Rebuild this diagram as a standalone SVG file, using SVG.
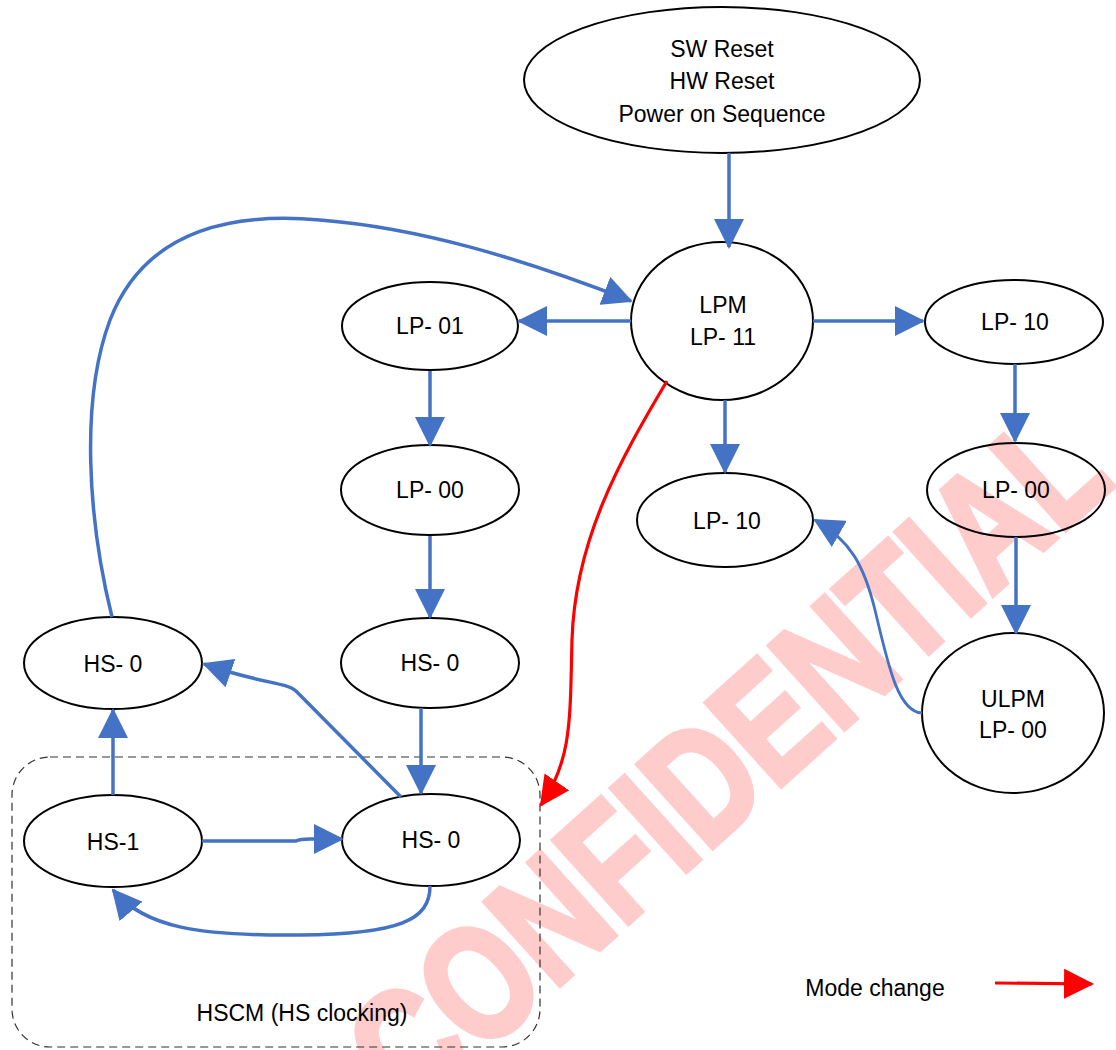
<svg xmlns="http://www.w3.org/2000/svg" width="1116" height="1050" viewBox="0 0 1116 1050">
<style>
.node ellipse{fill:none;stroke:#000;stroke-width:2}
.lbl{font-family:"Liberation Sans",Arial,sans-serif;font-size:23px;text-anchor:middle;fill:#000}
.conn{fill:none;stroke:#4472C4;stroke-width:3.5}
.thin{stroke-width:2.8}
.red{fill:none;stroke:#FF0000;stroke-width:3.2}
.wm{font-family:"Liberation Sans",Arial,sans-serif;font-size:145px;font-weight:bold;text-anchor:middle;fill:#FFCCCC;stroke:#FFCCCC;stroke-width:5;stroke-linejoin:miter}
.box{fill:none;stroke:#333;stroke-width:1.2;stroke-dasharray:8 5}
</style>
<defs>
<marker id="ab" markerUnits="userSpaceOnUse" markerWidth="30" markerHeight="30" viewBox="0 0 30 30" refX="28" refY="15" orient="auto">
<path d="M0,0 L30,15 L0,30 z" fill="#4472C4"/>
</marker>
<marker id="ar" markerUnits="userSpaceOnUse" markerWidth="30" markerHeight="30" viewBox="0 0 30 30" refX="28" refY="15" orient="auto">
<path d="M0,0 L30,15 L0,30 z" fill="#FF0000"/>
</marker>
</defs>
<rect width="1116" height="1050" fill="#fff"/>
<text class="wm" transform="translate(725,758) rotate(-42) scale(0.88,1.12)" x="0" y="52">CONFIDENTIAL</text>

<rect id="hscm" class="box" x="12" y="757" width="528" height="290" rx="38" ry="38"/>
<text class="lbl" x="302" y="1021">HSCM (HS clocking)</text>

<g id="reset" class="node"><ellipse cx="722" cy="80" rx="198" ry="73"/>
<text class="lbl" x="722" y="57">SW Reset</text><text class="lbl" x="722" y="89">HW Reset</text><text class="lbl" x="722" y="122">Power on Sequence</text></g>
<g id="lpm" class="node"><ellipse cx="722" cy="321" rx="91" ry="79"/>
<text class="lbl" x="723" y="313">LPM</text><text class="lbl" x="723" y="345">LP- 11</text></g>
<g id="lp01" class="node"><ellipse cx="430" cy="326" rx="88" ry="44"/><text class="lbl" x="430" y="334">LP- 01</text></g>
<g id="lp00a" class="node"><ellipse cx="430" cy="490" rx="89" ry="45"/><text class="lbl" x="430" y="498">LP- 00</text></g>
<g id="hs0m" class="node"><ellipse cx="430" cy="663" rx="89" ry="45"/><text class="lbl" x="430" y="671">HS- 0</text></g>
<g id="hs0l" class="node"><ellipse cx="113" cy="663" rx="89" ry="46"/><text class="lbl" x="113" y="672">HS- 0</text></g>
<g id="hs1" class="node"><ellipse cx="113" cy="841" rx="89" ry="46"/><text class="lbl" x="113" y="850">HS-1</text></g>
<g id="hs0b" class="node"><ellipse cx="431" cy="840" rx="89" ry="46"/><text class="lbl" x="431" y="848">HS- 0</text></g>
<g id="lp10m" class="node"><ellipse cx="725" cy="520" rx="88" ry="47"/><text class="lbl" x="727" y="529">LP- 10</text></g>
<g id="lp10r" class="node"><ellipse cx="1014" cy="322" rx="89" ry="42"/><text class="lbl" x="1015" y="330">LP- 10</text></g>
<g id="lp00r" class="node"><ellipse cx="1016" cy="490" rx="89" ry="47"/><text class="lbl" x="1016" y="498">LP- 00</text></g>
<g id="ulpm" class="node"><ellipse cx="1013" cy="713" rx="91" ry="80"/>
<text class="lbl" x="1013" y="707">ULPM</text><text class="lbl" x="1013" y="738">LP- 00</text></g>

<g id="connectors">
<path class="conn" d="M729,153 L729,247" marker-end="url(#ab)"/>
<path class="conn" d="M631,321 L519,321" marker-end="url(#ab)"/>
<path class="conn" d="M813,321 L923,321" marker-end="url(#ab)"/>
<path class="conn" d="M725,400 L725,472" marker-end="url(#ab)"/>
<path class="conn" d="M430,371 L430,445" marker-end="url(#ab)"/>
<path class="conn" d="M430,536 L430,617" marker-end="url(#ab)"/>
<path class="conn" d="M421,708 L421,793" marker-end="url(#ab)"/>
<path class="conn" d="M401,797 L296,691 C286,682 262,684 204,664" marker-end="url(#ab)"/>
<path class="conn" d="M113,795 L113,710" marker-end="url(#ab)"/>
<path class="conn" d="M202,841 L296,841 Q300,839 310,839 L342,839" marker-end="url(#ab)"/>
<path class="conn" d="M430,886 C430,920 400,934 300,935 C200,936 145,928 113,890" marker-end="url(#ab)"/>
<path class="conn" d="M112,617 C88,520 80,400 110,320 C145,230 230,212 320,220 C420,228 520,258 631,301" marker-end="url(#ab)"/>
<path class="conn" d="M1015,364 L1015,441" marker-end="url(#ab)"/>
<path class="conn" d="M1016,537 L1016,633" marker-end="url(#ab)"/>
<path class="conn thin" d="M922,713 C898,712 888,665 875,610 C864,565 850,540 815,520" marker-end="url(#ab)"/>
<path class="red" d="M667,381 C620,460 575,540 572,640 C570,720 572,760 541,805" marker-end="url(#ar)"/>
</g>

<g id="legend">
<text class="lbl" x="875" y="996">Mode change</text>
<path class="red" d="M995,983 L1092,984" stroke-width="3.5" marker-end="url(#ar)"/>
</g>
</svg>
